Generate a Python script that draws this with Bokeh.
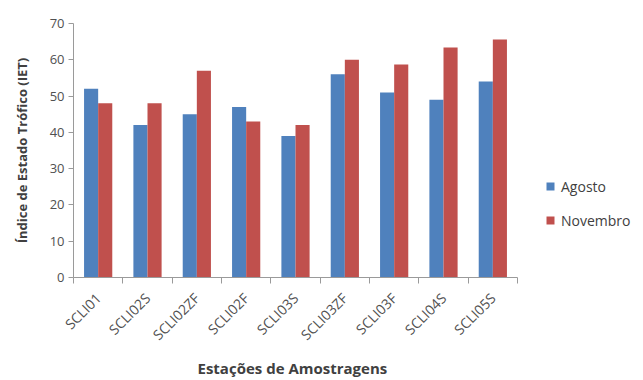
import numpy as np
from bokeh.plotting import figure
from bokeh.models import ColumnDataSource, FixedTicker, Legend, LegendItem, Range1d, Title
from bokeh.embed import file_html
from bokeh.resources import INLINE

categories = ["SCLI01", "SCLI02S", "SCLI02ZF", "SCLI02F", "SCLI03S",
              "SCLI03ZF", "SCLI03F", "SCLI04S", "SCLI05S"]
agosto = [52, 42, 45, 47, 39, 56, 51, 49, 54]
novembro = [48, 48, 57, 43, 42, 60, 58.7, 63.4, 65.6]
y_ticks = [0, 10, 20, 30, 40, 50, 60, 70]

BLUE = "#4F81BD"
RED = "#C0504D"
AXIS = "#9A9A9A"
TXT = "#505050"
FONT = "Open Sans"

n = len(categories)
centers = np.arange(n) + 0.5
bw = 0.286

# plot area: categories occupy 444 px of a 570 px wide frame; rest holds the legend
x_end = n * 570.0 / 444.0

src = ColumnDataSource(dict(
    xa=centers - bw / 2, xn=centers + bw / 2,
    agosto=agosto, novembro=novembro, cat=categories))

p = figure(width=643, height=380, output_backend="svg", toolbar_location=None,
           x_range=Range1d(0, x_end), y_range=Range1d(0, 70),
           min_border_left=73, min_border_right=0, min_border_top=23,
           min_border_bottom=103)
p.outline_line_color = None
p.xgrid.visible = False
p.ygrid.visible = False
p.background_fill_color = "white"
p.border_fill_color = "white"

ra = p.vbar(x="xa", top="agosto", width=bw, source=src, fill_color=BLUE, line_color=None)
rn = p.vbar(x="xn", top="novembro", width=bw, source=src, fill_color=RED, line_color=None)

# x axis
xa = p.xaxis[0]
xa.bounds = (0, n)
xa.ticker = FixedTicker(ticks=list(centers), minor_ticks=list(range(n + 1)))
xa.major_label_overrides = {float(c): lab for c, lab in zip(centers, categories)}
xa.major_label_orientation = np.pi / 4
xa.major_tick_out = 0
xa.major_tick_in = 0
xa.minor_tick_out = 6
xa.minor_tick_in = 0
xa.minor_tick_line_color = AXIS
xa.axis_line_color = AXIS
xa.major_label_text_font = FONT
xa.major_label_text_font_size = "14px"
xa.major_label_text_color = TXT
xa.major_label_standoff = 12

xt = Title(text="Estações de Amostragens", align="left", offset=124,
           text_font=FONT, text_font_style="bold", text_font_size="15px",
           text_color="#404040", standoff=4)
p.add_layout(xt, "below")

# y axis
ya = p.yaxis[0]
ya.ticker = FixedTicker(ticks=y_ticks)
ya.minor_tick_line_color = None
ya.major_tick_out = 5
ya.major_tick_in = 0
ya.major_tick_line_color = AXIS
ya.axis_line_color = AXIS
ya.major_label_text_font = FONT
ya.major_label_text_font_size = "13px"
ya.major_label_text_color = TXT
ya.major_label_standoff = 4
ya.axis_label = "Índice de Estado Trófico (IET)"
ya.axis_label_text_font = FONT
ya.axis_label_text_font_style = "bold"
ya.axis_label_text_font_size = "13px"
ya.axis_label_text_color = "#404040"
ya.axis_label_standoff = 16

legend = Legend(items=[LegendItem(label="Agosto", renderers=[ra]),
                       LegendItem(label="Novembro", renderers=[rn])],
                location=(472, 47), orientation="vertical")
legend.border_line_color = None
legend.background_fill_alpha = 0
legend.padding = 0
legend.margin = 0
legend.glyph_width = 10
legend.glyph_height = 10
legend.label_height = 20
legend.spacing = 14
legend.label_standoff = 6
legend.label_text_font = FONT
legend.label_text_font_size = "14px"
legend.label_text_color = "#404040"
p.add_layout(legend, "center")

open("out.html", "w").write(file_html(p, INLINE))
